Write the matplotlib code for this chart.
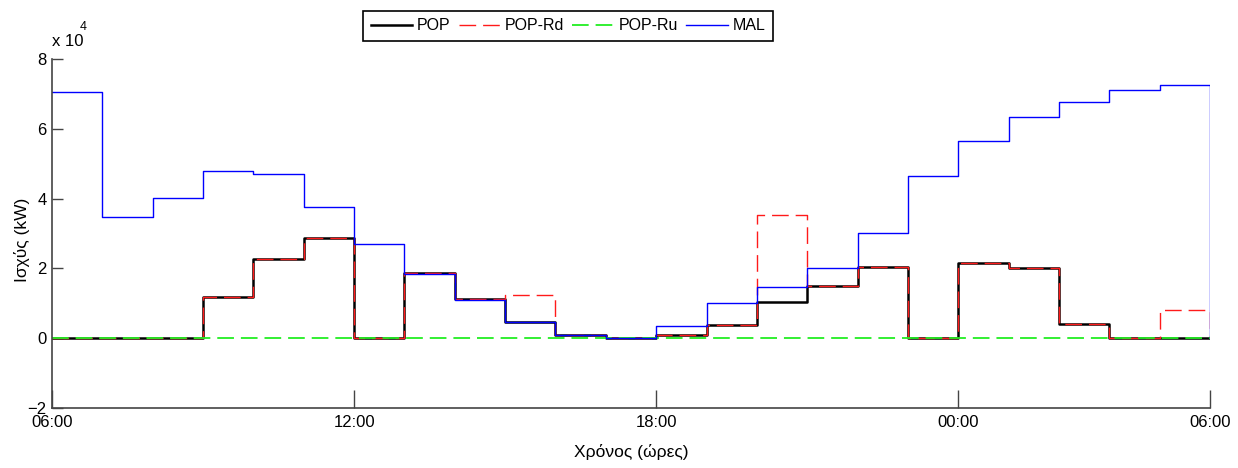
import numpy as np
import matplotlib
matplotlib.use("Agg")
import matplotlib.pyplot as plt

plt.rcParams['font.family'] = ['Liberation Sans Narrow', 'Liberation Sans', 'DejaVu Sans']
plt.rcParams['lines.scale_dashes'] = False

# ωριαία βήματα 06:00 -> 06:00 (τελευταία τιμή = 0, όπως στο stairs)
hours = np.arange(24)
tick_pos = [0, 6, 12, 18, 23]
tick_labels = ['06:00', '12:00', '18:00', '00:00', '06:00']

pop = [0, 0, 0, 11800, 22700, 28600, 0, 18800, 11100, 4600, 1000, 200,
       1000, 3800, 10300, 14900, 20500, 0, 21500, 20100, 4100, 0, 0, 0]
pop_rd = [0, 0, 0, 11800, 22700, 28600, 0, 18800, 11100, 12500, 1000, 200,
          1000, 3800, 35200, 14900, 20500, 0, 21500, 20100, 4100, 0, 8100, 0]
pop_ru = [0] * 24
mal = [70500, 34700, 40200, 47900, 47000, 37500, 27000, 18500, 10900, 4600,
       1000, 200, 3500, 10200, 14800, 20200, 30100, 46500, 56600, 63300,
       67800, 71000, 72500, 0]

scale = 1e4

fig = plt.figure(figsize=(12.38, 4.68), dpi=100)
ax = fig.add_axes([52 / 1238, 1 - 408 / 468, (1210 - 52) / 1238, (408 - 59) / 468])

ax.plot(hours, np.array(pop) / scale, drawstyle='steps-post', color='black', lw=1.8, label='POP')
ax.plot(hours, np.array(pop_rd) / scale, drawstyle='steps-post', color='#ff1a1a', lw=1.0,
        dashes=(12, 5), label='POP-Rd')
ax.plot(hours, np.array(pop_ru) / scale, drawstyle='steps-post', color='#22ee22', lw=1.3,
        dashes=(12, 5), label='POP-Ru')
ax.plot(hours, np.array(mal) / scale, drawstyle='steps-post', color='blue', lw=1.0, label='MAL')

ax.set_xlim(0, 23)
ax.set_ylim(-2, 8)
ax.set_xticks(tick_pos)
ax.set_xticklabels(tick_labels)
ax.set_yticks([-2, 0, 2, 4, 6, 8])
ax.tick_params(axis='x', direction='in', length=13, width=1.0, color='#444444', labelsize=12, pad=5)
ax.tick_params(axis='y', direction='in', length=8, width=1.0, color='#444444', labelsize=12, pad=4)
for s in ['top', 'right']:
    ax.spines[s].set_visible(False)
for s in ['left', 'bottom']:
    ax.spines[s].set_color('#444444')
    ax.spines[s].set_linewidth(1.2)

fig.text(52 / 1238, 1 - 42 / 468, 'x 10', fontsize=12, ha='left', va='center')
fig.text(80 / 1238, 1 - 27 / 468, '4', fontsize=9, ha='left', va='center')

fig.text(22 / 1238, 1 - 240 / 468, 'Ισχύς (kW)', rotation=90, fontsize=12.5, ha='center', va='center')
fig.text(631 / 1238, 1 - 452 / 468, 'Χρόνος (ώρες)', fontsize=12.5, ha='center', va='center')

leg = fig.legend(loc='center', bbox_to_anchor=(568 / 1238, 1 - 26 / 468), ncol=4,
                 fontsize=11.5, frameon=True, fancybox=False, framealpha=1,
                 handlelength=2.6, handletextpad=0.3, columnspacing=0.5,
                 borderpad=0.5, borderaxespad=0)
leg.get_frame().set_edgecolor('black')
leg.get_frame().set_linewidth(1.2)

fig.savefig('out.png', dpi=100)
